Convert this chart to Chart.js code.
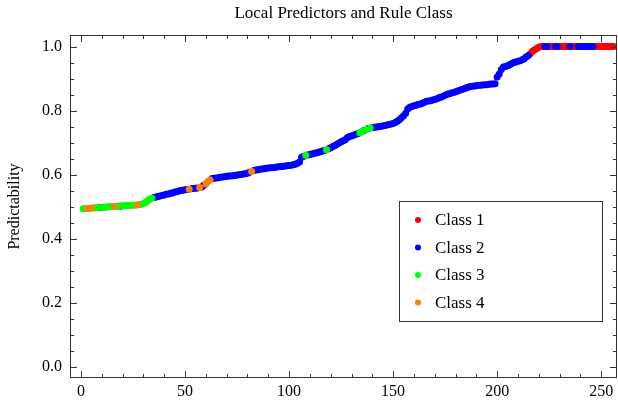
<!DOCTYPE html>
<html>
<head>
<meta charset="utf-8">
<script src="https://cdn.jsdelivr.net/npm/chart.js@4.4.1/dist/chart.umd.min.js"></script>
<style>
  html, body { margin: 0; padding: 0; background: #fff; }
</style>
</head>
<body>
<canvas id="myChart" width="618" height="406"></canvas>
<script>
// rule index runs 1..256, predictability sorted ascending
const classNames = ['Class 1', 'Class 2', 'Class 3', 'Class 4'];
const classColors = ['#FF0000', '#0000FF', '#00FF00', '#FF8000'];

const predictability = [
  0.494, 0.494, 0.495, 0.495, 0.496, 0.496, 0.497, 0.497, 0.498, 0.499, 0.499, 0.499, 0.500, 0.500, 0.501, 0.501,
  0.502, 0.502, 0.502, 0.503, 0.503, 0.504, 0.504, 0.505, 0.505, 0.506, 0.506, 0.507, 0.508, 0.510, 0.514, 0.519,
  0.524, 0.527, 0.529, 0.531, 0.532, 0.534, 0.535, 0.537, 0.539, 0.540, 0.542, 0.543, 0.546, 0.547, 0.549, 0.551,
  0.552, 0.553, 0.554, 0.555, 0.556, 0.557, 0.558, 0.559, 0.560, 0.562, 0.567, 0.572, 0.579, 0.584, 0.588, 0.589,
  0.590, 0.591, 0.592, 0.593, 0.594, 0.595, 0.596, 0.596, 0.597, 0.598, 0.599, 0.600, 0.601, 0.602, 0.603, 0.605,
  0.608, 0.610, 0.613, 0.615, 0.616, 0.617, 0.618, 0.619, 0.620, 0.621, 0.622, 0.622, 0.623, 0.624, 0.625, 0.626,
  0.626, 0.627, 0.628, 0.629, 0.630, 0.631, 0.633, 0.636, 0.640, 0.655, 0.658, 0.661, 0.662, 0.663, 0.665, 0.667,
  0.668, 0.670, 0.672, 0.674, 0.676, 0.678, 0.681, 0.684, 0.688, 0.691, 0.695, 0.699, 0.703, 0.706, 0.709, 0.716,
  0.719, 0.721, 0.723, 0.726, 0.728, 0.731, 0.735, 0.738, 0.741, 0.744, 0.746, 0.747, 0.748, 0.749, 0.750, 0.751,
  0.752, 0.754, 0.755, 0.757, 0.758, 0.760, 0.763, 0.767, 0.772, 0.778, 0.784, 0.792, 0.805, 0.811, 0.813, 0.815,
  0.817, 0.819, 0.821, 0.823, 0.826, 0.829, 0.830, 0.831, 0.833, 0.835, 0.837, 0.840, 0.842, 0.845, 0.848, 0.851,
  0.853, 0.855, 0.857, 0.859, 0.861, 0.864, 0.866, 0.868, 0.871, 0.873, 0.875, 0.876, 0.877, 0.878, 0.879, 0.879,
  0.880, 0.881, 0.881, 0.882, 0.883, 0.883, 0.884, 0.905, 0.914, 0.928, 0.936, 0.938, 0.940, 0.943, 0.947, 0.950,
  0.952, 0.954, 0.956, 0.959, 0.962, 0.968, 0.972, 0.978, 0.985, 0.990, 0.994, 0.998, 1.000, 1.000, 1.000, 1.000,
  1.000, 1.000, 1.000, 1.000, 1.000, 1.000, 1.000, 1.000, 1.000, 1.000, 1.000, 1.000, 1.000, 1.000, 1.000, 1.000,
  1.000, 1.000, 1.000, 1.000, 1.000, 1.000, 1.000, 1.000, 1.000, 1.000, 1.000, 1.000, 1.000, 1.000, 1.000, 1.000
];

const ruleClass = [
  3, 3, 4, 3, 4, 3, 3, 3, 2, 3, 3, 3, 3, 3, 3, 4,
  3, 3, 2, 3, 3, 3, 3, 3, 3, 3, 4, 3, 3, 3, 3, 3,
  3, 3, 2, 2, 2, 2, 2, 2, 2, 2, 2, 2, 2, 2, 2, 2,
  2, 2, 2, 4, 2, 2, 2, 2, 4, 2, 2, 4, 4, 4, 2, 2,
  2, 2, 2, 2, 2, 2, 2, 2, 2, 2, 2, 2, 2, 2, 2, 2,
  2, 4, 2, 2, 2, 2, 2, 2, 2, 2, 2, 2, 2, 2, 2, 2,
  2, 2, 2, 2, 2, 2, 2, 2, 2, 2, 2, 3, 2, 2, 2, 2,
  2, 2, 2, 2, 2, 3, 2, 2, 2, 2, 2, 2, 2, 2, 2, 2,
  2, 2, 2, 2, 2, 3, 3, 2, 3, 2, 3, 2, 2, 2, 2, 2,
  2, 2, 2, 2, 2, 2, 2, 2, 2, 2, 2, 2, 2, 2, 2, 2,
  2, 2, 2, 2, 2, 2, 2, 2, 2, 2, 2, 2, 2, 2, 2, 2,
  2, 2, 2, 2, 2, 2, 2, 2, 2, 2, 2, 2, 2, 2, 2, 2,
  2, 2, 2, 2, 2, 2, 2, 2, 2, 2, 2, 2, 2, 2, 2, 2,
  2, 2, 2, 2, 2, 2, 2, 1, 1, 1, 1, 1, 1, 1, 2, 2,
  1, 1, 1, 2, 2, 1, 1, 1, 1, 1, 2, 1, 1, 1, 2, 2,
  2, 2, 2, 2, 2, 2, 1, 1, 1, 1, 1, 1, 1, 1, 1, 1
];

const xTicks = [0, 50, 100, 150, 200, 250];
const yTicks = [0, 0.2, 0.4, 0.6, 0.8, 1.0];

const serif = "'Liberation Serif', 'DejaVu Serif', serif";

const datasets = classNames.map((name, c) => ({
  label: name,
  data: predictability
    .map((y, i) => ({ x: i + 1, y: y, cls: ruleClass[i] }))
    .filter(p => p.cls === c + 1),
  backgroundColor: classColors[c],
  borderWidth: 0,
  pointRadius: 3.5,
  pointHoverRadius: 3.5,
  order: classNames.length - c   // class 4 ends up drawn on top
}));

// frame with inward ticks on all four sides, like the original
const framePlugin = {
  id: 'frame',
  afterDatasetsDraw(chart) {
    const { ctx, chartArea: a, scales: { x, y } } = chart;
    ctx.save();
    ctx.strokeStyle = '#333';
    ctx.lineWidth = 1;
    ctx.strokeRect(a.left + 0.5, a.top + 0.5, a.right - a.left - 1, a.bottom - a.top - 1);
    ctx.beginPath();
    for (let v = 0; v <= 250; v += 10) {
      const len = v % 50 === 0 ? 7 : 4;
      const px = Math.round(x.getPixelForValue(v)) + 0.5;
      ctx.moveTo(px, a.bottom); ctx.lineTo(px, a.bottom - len);
      ctx.moveTo(px, a.top); ctx.lineTo(px, a.top + len);
    }
    for (let k = 0; k <= 20; k++) {
      const len = k % 4 === 0 ? 7 : 4;
      const py = Math.round(y.getPixelForValue(k * 0.05)) + 0.5;
      ctx.moveTo(a.left, py); ctx.lineTo(a.left + len, py);
      ctx.moveTo(a.right, py); ctx.lineTo(a.right - len, py);
    }
    ctx.stroke();
    ctx.restore();
  }
};

// boxed legend sitting inside the plot, lower right
const boxLegend = {
  id: 'boxLegend',
  afterDraw(chart) {
    const { ctx, chartArea: a } = chart;
    const left = a.right - 218, top = a.top + 166, w = 203, h = 120;
    ctx.save();
    ctx.fillStyle = '#fff';
    ctx.fillRect(left, top, w, h);
    ctx.strokeStyle = '#333';
    ctx.lineWidth = 1;
    ctx.strokeRect(left + 0.5, top + 0.5, w, h);
    ctx.font = '17px ' + serif;
    ctx.textBaseline = 'middle';
    chart.data.datasets.forEach((ds, i) => {
      const cy = top + 19 + i * 27.5;
      ctx.fillStyle = ds.backgroundColor;
      ctx.beginPath();
      ctx.arc(left + 19, cy, 3, 0, Math.PI * 2);
      ctx.fill();
      ctx.fillStyle = '#000';
      ctx.fillText(ds.label, left + 36, cy + 1);
    });
    ctx.restore();
  }
};

const ctx = document.getElementById('myChart');

new Chart(ctx, {
  type: 'scatter',
  data: { datasets: datasets },
  plugins: [framePlugin, boxLegend],
  options: {
    responsive: false,
    animation: false,
    layout: {
      autoPadding: false,   // otherwise point radius eats into the right edge
      padding: { left: 0, right: 1, top: 0, bottom: 0 }
    },
    plugins: {
      legend: { display: false },
      tooltip: { enabled: false },
      title: {
        display: true,
        text: 'Local Predictors and Rule Class',
        color: '#000',
        fullSize: false,
        font: { family: serif, size: 17, weight: 'normal' },
        padding: { top: 3, bottom: 11.6 }
      }
    },
    scales: {
      x: {
        type: 'linear',
        min: -5.3,
        max: 257.6,
        grid: { display: false, drawTicks: false },
        border: { display: false },
        afterBuildTicks: scale => { scale.ticks = xTicks.map(v => ({ value: v })); },
        afterFit: scale => { scale.height = 28; },
        ticks: {
          color: '#000',
          padding: 4,
          maxRotation: 0,
          font: { family: serif, size: 16 }
        }
      },
      y: {
        type: 'linear',
        min: -0.034,
        max: 1.036,
        grid: { display: false, drawTicks: false },
        border: { display: false },
        afterBuildTicks: scale => { scale.ticks = yTicks.map(v => ({ value: v })); },
        afterFit: scale => { scale.width = 70; },
        title: {
          display: true,
          text: 'Predictability',
          color: '#000',
          font: { family: serif, size: 16, weight: 'normal' },
          padding: { top: 5, bottom: 0 }
        },
        ticks: {
          color: '#000',
          padding: 8,
          font: { family: serif, size: 16 },
          callback: v => v.toFixed(1)
        }
      }
    }
  }
});
</script>
</body>
</html>
